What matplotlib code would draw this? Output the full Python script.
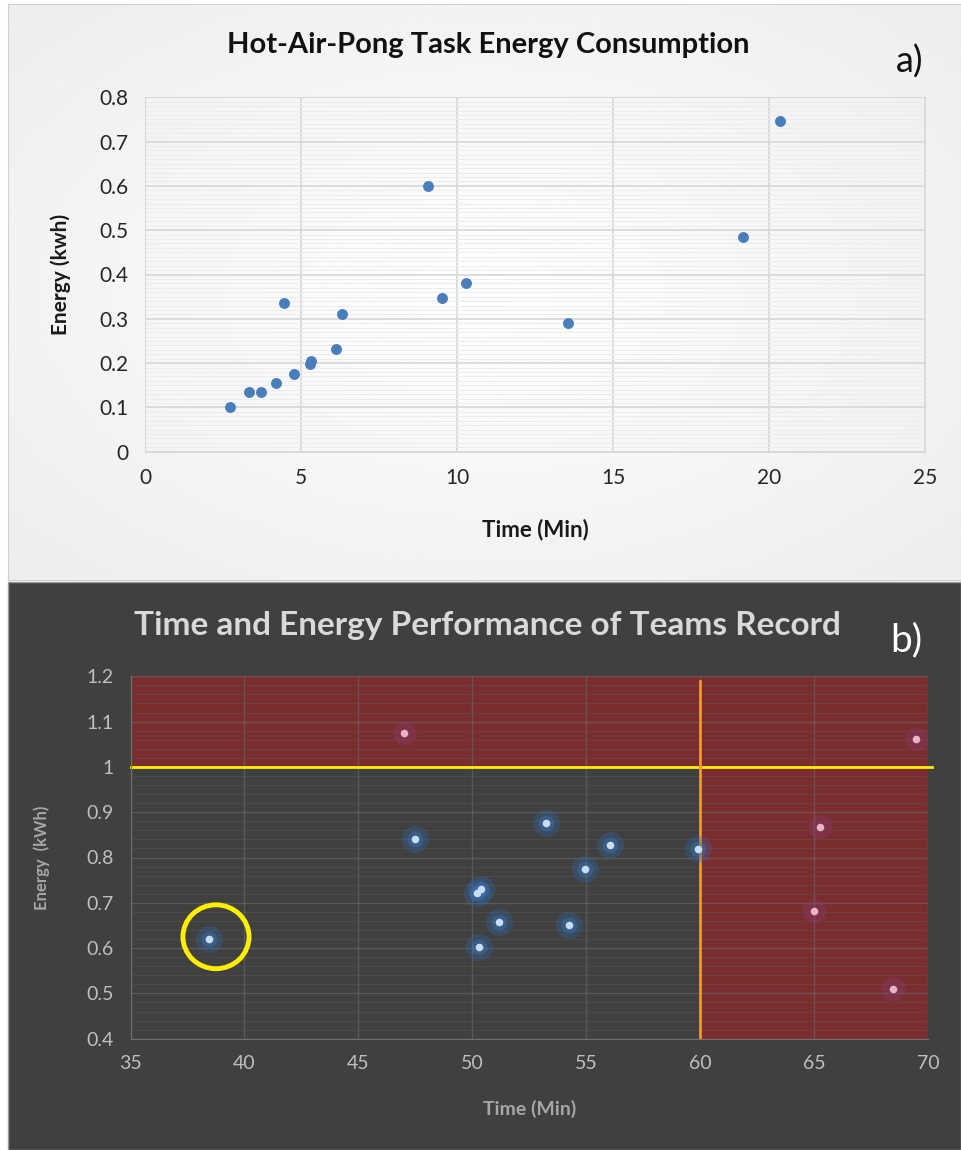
import numpy as np
import matplotlib.pyplot as plt
from matplotlib.patches import Rectangle, Ellipse
from matplotlib.ticker import MultipleLocator

plt.rcParams['font.family'] = ['Lato', 'DejaVu Sans']

# panel a: hot-air-pong task
time_a = [2.71, 3.34, 3.71, 4.19, 4.44, 4.77, 5.29, 5.31, 6.12, 6.31, 9.07, 9.51, 10.29, 13.56, 19.17, 20.35]
energy_a = [0.100, 0.135, 0.135, 0.154, 0.335, 0.176, 0.199, 0.205, 0.231, 0.311, 0.600, 0.348, 0.380, 0.290, 0.485, 0.746]

# panel b: team records
time_b = [38.44, 47.01, 47.47, 53.25, 56.04, 59.91, 54.94, 50.18, 50.37, 51.18, 54.24, 50.29, 65.26, 64.99, 68.43, 69.48]
energy_b = [0.620, 1.075, 0.841, 0.877, 0.827, 0.819, 0.775, 0.722, 0.730, 0.658, 0.650, 0.602, 0.867, 0.682, 0.509, 1.061]

time_limit = 60
energy_limit = 1.0

W, H = 961, 1150
fig = plt.figure(figsize=(W / 100, H / 100), dpi=100)
fig.patch.set_facecolor('white')

# ---- panel a background (soft radial gradient)
bg = fig.add_axes([8 / W, 1 - 580 / H, 1 - 8 / W, (580 - 4) / H], zorder=-10)
yy, xx = np.mgrid[-1:1:200j, -1:1:200j]
rr = np.clip(np.sqrt(xx ** 2 + yy ** 2) / 1.4, 0, 1)
bg.imshow(1 - 0.07 * rr, cmap='gray', vmin=0, vmax=1, aspect='auto', extent=[0, 1, 0, 1])
bg.set_xticks([])
bg.set_yticks([])
for s in bg.spines.values():
    s.set_color('#d0d0d0')

# ---- panel b background
fig.patches.append(Rectangle((8 / W, 0), 1 - 8 / W, 1 - 582 / H, transform=fig.transFigure,
                             facecolor='#404040', edgecolor='#9a9a9a', lw=1, zorder=-10))

##############
# Panel a
##############
ax = fig.add_axes([145 / W, 1 - 451.7 / H, 780 / W, (451.7 - 97.3) / H])
ax.set_facecolor('none')
ax.scatter(time_a, energy_a, s=62, color='#4a7ebb', zorder=3, linewidths=0)
ax.set_xlim(0, 25)
ax.set_ylim(0, 0.8)
ax.xaxis.set_major_locator(MultipleLocator(5))
ax.yaxis.set_minor_locator(MultipleLocator(0.01))
ax.grid(which='major', color='#d9d9d9', lw=1.3)
ax.grid(which='minor', axis='y', color='#ececec', lw=0.7)
ax.set_axisbelow(True)
for s in ax.spines.values():
    s.set_color('#d9d9d9')
ax.tick_params(which='both', length=0, labelsize=15, colors='#262626', pad=12)
ax.set_yticks(np.arange(0, 0.81, 0.1))
ax.set_yticklabels(['0', '0.1', '0.2', '0.3', '0.4', '0.5', '0.6', '0.7', '0.8'])
ax.set_xlabel('Time (Min)', fontsize=16, fontweight='bold', color='#1a1a1a', labelpad=22)
ax.set_ylabel('Energy (kwh)', fontsize=15, fontweight='bold', color='#1a1a1a', labelpad=20)
fig.text(488 / W, 1 - 45 / H, 'Hot-Air-Pong Task Energy Consumption', ha='center', va='center',
         fontsize=21, fontweight='bold', color='#111111')
fig.text(910 / W, 1 - 62 / H, 'a)', ha='center', va='center', fontsize=26, color='#111111')

##############
# Panel b
##############
bx = fig.add_axes([130.5 / W, 1 - 1038.7 / H, (928.3 - 130.5) / W, (1038.7 - 676.3) / H])
bx.set_facecolor('none')
bx.set_xlim(35, 70)
bx.set_ylim(0.4, 1.2)
red = '#7a2c2e'
bx.axhspan(energy_limit, 1.2, color=red, zorder=0, lw=0)
bx.axvspan(time_limit, 70, ymax=(energy_limit - 0.4) / 0.8, color=red, zorder=0, lw=0)
bx.xaxis.set_major_locator(MultipleLocator(5))
bx.yaxis.set_minor_locator(MultipleLocator(0.02))
bx.grid(which='major', color='#6a6a6a', lw=1.0, alpha=0.6)
bx.grid(which='minor', axis='y', color='#5a5a5a', lw=0.6, alpha=0.5)
bx.set_axisbelow(True)
for s in bx.spines.values():
    s.set_visible(False)
bx.spines['left'].set_visible(True)
bx.spines['bottom'].set_visible(True)
bx.spines['left'].set_color('#707070')
bx.spines['bottom'].set_color('#707070')
bx.tick_params(which='both', length=0, labelsize=14, colors='#bfbfbf', pad=12)
bx.set_yticks(np.arange(0.4, 1.21, 0.1))
bx.set_yticklabels(['0.4', '0.5', '0.6', '0.7', '0.8', '0.9', '1', '1.1', '1.2'])

bx.axhline(energy_limit, color='#ffee00', lw=2, zorder=2, xmax=1.005, clip_on=False)
bx.plot([time_limit, time_limit], [0.4, 1.19], color='#f0a000', lw=2, zorder=2)

tb = np.array(time_b)
eb = np.array(energy_b)
bad = (tb > time_limit) | (eb > energy_limit)
ok = ~bad
bx.scatter(tb[ok], eb[ok], s=380, color='#2f6ab0', alpha=0.3, linewidths=0, zorder=3)
bx.scatter(tb[ok], eb[ok], s=130, color='#3b78c0', alpha=0.4, linewidths=0, zorder=3)
bx.scatter(tb[ok], eb[ok], s=30, color='#c8dcf2', linewidths=0, zorder=4)
bx.scatter(tb[bad], eb[bad], s=300, color='#8a3c70', alpha=0.35, linewidths=0, zorder=3)
bx.scatter(tb[bad], eb[bad], s=30, color='#e8b4c8', linewidths=0, zorder=4)

bx.add_patch(Ellipse((38.75, 0.625), 2.9, 0.141, fill=False, edgecolor='#ffee00', lw=3.5, zorder=5))

bx.set_xlabel('Time (Min)', fontsize=14, fontweight='bold', color='#a6a6a6', labelpad=20)
bx.set_ylabel('Energy  (kWh)', fontsize=12, fontweight='bold', color='#a6a6a6', labelpad=26)
fig.text(487 / W, 1 - 626 / H, 'Time and Energy Performance of Teams Record', ha='center', va='center',
         fontsize=24, fontweight='bold', color='#d9d9d9')
fig.text(906 / W, 1 - 640 / H, 'b)', ha='center', va='center', fontsize=28, color='white')

fig.savefig('out.png', dpi=100)
